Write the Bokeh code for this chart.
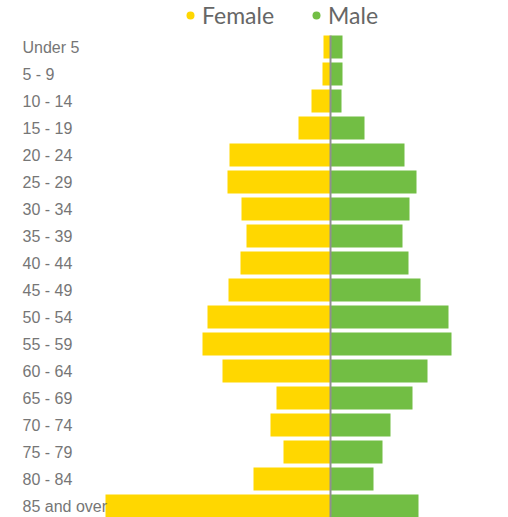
from bokeh.plotting import figure
from bokeh.models import Range1d, Legend, LegendItem
from bokeh.core.properties import value
from bokeh.embed import file_html
from bokeh.resources import INLINE

age_groups = ["Under 5", "5 - 9", "10 - 14", "15 - 19", "20 - 24", "25 - 29",
              "30 - 34", "35 - 39", "40 - 44", "45 - 49", "50 - 54", "55 - 59",
              "60 - 64", "65 - 69", "70 - 74", "75 - 79", "80 - 84", "85 and over"]
female = [7, 8, 19, 32, 101, 103, 89, 84, 90, 102, 123, 128, 108, 54, 60, 47, 77, 225]
male = [12, 12, 11, 34, 74, 86, 79, 72, 78, 90, 118, 121, 97, 82, 60, 52, 43, 88]

YELLOW = "#FFD700"
GREEN = "#72BE44"

W, H = 508, 517
row_px = 27.0
first_row_px = 46.5
bar_h = 0.85
x_start, x_end = -330, 178

idx = list(range(len(age_groups)))
neg_female = [-v for v in female]

y_top = -first_row_px / row_px
y_bottom = y_top + H / row_px

p = figure(width=W, height=H, output_backend="svg", toolbar_location=None,
           x_range=Range1d(x_start, x_end), y_range=Range1d(y_bottom, y_top),
           x_axis_type=None, y_axis_type=None, min_border=0,
           outline_line_color=None, background_fill_color="white",
           border_fill_color="white")

p.hbar(y=idx, left=neg_female, right=0, height=bar_h, color=YELLOW, line_color=None)
p.hbar(y=idx, left=0, right=male, height=bar_h, color=GREEN, line_color=None)

p.segment(x0=0, x1=0, y0=idx[0] - bar_h / 2, y1=idx[-1] + bar_h / 2,
          line_color="#8f8f8f", line_width=2)

p.text(x=x_start + 22, y=idx, text=age_groups, text_align="left",
       text_baseline="middle", text_font=value("Liberation Sans"),
       text_font_size="16px", text_color="#767676")

nan = float("nan")
r_f = p.scatter(x=[nan], y=[nan], size=9, color=YELLOW, line_color=None)
r_m = p.scatter(x=[nan], y=[nan], size=9, color=GREEN, line_color=None)

legend = Legend(items=[LegendItem(label="Female", renderers=[r_f]),
                       LegendItem(label="Male", renderers=[r_m])],
                orientation="horizontal", location=(180, 488),
                border_line_color=None, background_fill_alpha=0,
                padding=0, margin=0, spacing=32, glyph_width=20, glyph_height=22,
                label_standoff=2, label_text_font="Lato",
                label_text_font_size="23px", label_text_color="#666666")
p.add_layout(legend)

open("out.html", "w").write(file_html(p, INLINE))
